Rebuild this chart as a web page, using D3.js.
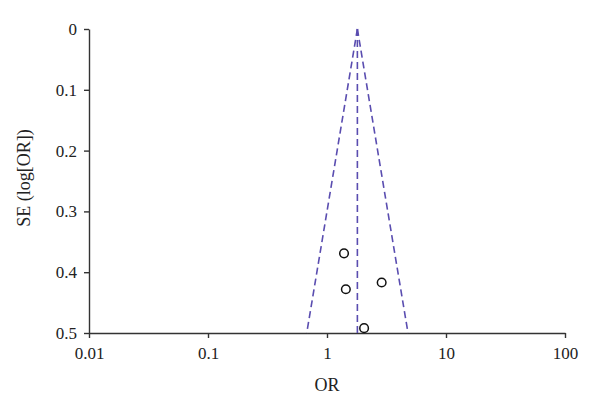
<!DOCTYPE html>
<html>
<head>
<meta charset="utf-8">
<script src="https://cdn.jsdelivr.net/npm/d3@7"></script>
<style>
  body { margin: 0; background: #fff; }
  svg text { font-family: "Liberation Serif", "Times New Roman", serif; fill: #222; }
</style>
</head>
<body>
<div id="chart"></div>
<script>
var width = 600,
    height = 412;

// study points
var studyOR = [1.39, 1.44, 2.88, 2.05];
var studySE = [0.369, 0.428, 0.417, 0.492];
var pooledOR = 1.80;
var xTicks = [0.01, 0.1, 1, 10, 100];
var yTicks = [0, 0.1, 0.2, 0.3, 0.4, 0.5];

var margin = {top: 29, right: 35, bottom: 79, left: 89};

var x = d3.scaleLog()
    .domain([0.01, 100])
    .range([margin.left, width - margin.right]);

var y = d3.scaleLinear()
    .domain([0, 0.5])
    .range([margin.top, height - margin.bottom]);

var svg = d3.select('#chart').append('svg')
    .attr('width', width)
    .attr('height', height);

// x axis
var xAxis = svg.append('g')
    .attr('transform', 'translate(0,' + y(0.5) + ')')
    .call(d3.axisBottom(x).tickValues(xTicks).tickFormat(d3.format('~g')).tickSize(5).tickSizeOuter(0));

// y axis
var yAxis = svg.append('g')
    .attr('transform', 'translate(' + x(0.01) + ',0)')
    .call(d3.axisLeft(y).tickValues(yTicks).tickFormat(d3.format('~g')).tickSize(5).tickSizeOuter(0));

[xAxis, yAxis].forEach(function(g) {
  g.select('.domain').attr('stroke', '#333').attr('stroke-width', 1.4);
  g.selectAll('.tick line').attr('stroke', '#333').attr('stroke-width', 1.4);
  g.selectAll('.tick text').attr('font-size', 17).attr('fill', '#222')
    .style('font-family', '"Liberation Serif", serif');
});
xAxis.selectAll('.tick text').attr('dy', '1.05em');
yAxis.selectAll('.tick text').attr('x', -12);

// funnel: pooled line and 95% limits
var z = 1.96;
var seTop = 0, seBottom = 0.5;
var dashColor = '#5a4db0';

function limit(se, sign) {
  return Math.exp(Math.log(pooledOR) + sign * z * se);
}

svg.append('line')
    .attr('x1', x(pooledOR)).attr('y1', y(seTop))
    .attr('x2', x(pooledOR)).attr('y2', y(seBottom))
    .attr('stroke', dashColor).attr('stroke-width', 1.6)
    .attr('stroke-dasharray', '7,4');

[-1, 1].forEach(function(sign) {
  svg.append('line')
      .attr('x1', x(limit(seTop, sign))).attr('y1', y(seTop))
      .attr('x2', x(limit(seBottom, sign))).attr('y2', y(seBottom))
      .attr('stroke', dashColor).attr('stroke-width', 1.6)
      .attr('stroke-dasharray', '7,4');
});

// study circles
svg.append('g').selectAll('circle')
    .data(studyOR)
  .enter().append('circle')
    .attr('cx', function(d) { return x(d); })
    .attr('cy', function(d, i) { return y(studySE[i]); })
    .attr('r', 4.3)
    .attr('fill', '#fff')
    .attr('stroke', '#111')
    .attr('stroke-width', 1.5);

// axis titles
svg.append('text')
    .attr('x', x(1))
    .attr('y', 391)
    .attr('text-anchor', 'middle')
    .attr('font-size', 18)
    .text('OR');

svg.append('text')
    .attr('transform', 'translate(30,' + ((y(0) + y(0.5)) / 2 - 3) + ') rotate(-90)')
    .attr('text-anchor', 'middle')
    .attr('font-size', 18)
    .text('SE (log[OR])');
</script>
</body>
</html>
